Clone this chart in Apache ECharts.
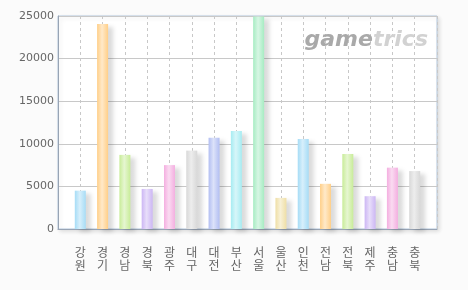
<!DOCTYPE html>
<html><head><meta charset="utf-8">
<script src="https://cdn.jsdelivr.net/npm/echarts@6/dist/echarts.min.js"></script>
<style>html,body{margin:0;padding:0;background:#fbfbfb;}#c{width:468px;height:290px;}</style>
</head><body><div id="c"></div>
<script>
const categories = ['강원','경기','경남','경북','광주','대구','대전','부산','서울','울산','인천','전남','전북','제주','충남','충북'];
const values = [4500, 24050, 8700, 4700, 7500, 9200, 10700, 11500, 24950, 3650, 10550, 5300, 8800, 3850, 7200, 6800];
const barColors = ['#a6dcf6','#ffcf88','#c8ec98','#ccb6f4','#f4aee0','#d8d8d8','#b2bef2','#a6ecf2','#a6ecc2','#efdfa6','#a6dcf6','#ffcf88','#c8ec98','#ccb6f4','#f4aee0','#d8d8d8'];
const yTicks = [0, 5000, 10000, 15000, 20000, 25000];

const cats = [''].concat(categories.map(c => c.split('').join('\n'))).concat(['']);
function lighten(hex, t){
  const n = parseInt(hex.slice(1),16);
  let r=(n>>16)&255,g=(n>>8)&255,b=n&255;
  r=Math.round(r+(255-r)*t);g=Math.round(g+(255-g)*t);b=Math.round(b+(255-b)*t);
  return 'rgb('+r+','+g+','+b+')';
}
const data = [null].concat(values.map((v,i)=>({
  value: v,
  itemStyle: {
    color: {type:'linear',x:0,y:0,x2:1,y2:0,colorStops:[
      {offset:0,color:barColors[i]},
      {offset:0.45,color:lighten(barColors[i],0.55)},
      {offset:1,color:barColors[i]}
    ]}
  }
}))).concat([null]);

const chart = echarts.init(document.getElementById('c'), null, {renderer:'canvas'});
chart.setOption({
  animation:false,
  backgroundColor:'#fbfbfb',
  grid:{left:58,right:31,top:16,bottom:61,show:true,backgroundColor:'#ffffff',borderColor:'#b4c8de',borderWidth:1,
    shadowColor:'rgba(0,0,0,0.12)',shadowBlur:4,shadowOffsetX:2,shadowOffsetY:2},
  graphic:[{type:'text',right:40,top:29,z:1,style:{
    text:'{a|game}{b|trics}',
    rich:{a:{fill:'#a9a9a9',font:'italic bold 22px "DejaVu Sans"'},b:{fill:'#d2d2d2',font:'italic bold 22px "DejaVu Sans"'}}
  }}],
  xAxis:{type:'category',data:cats,boundaryGap:false,
    axisLine:{lineStyle:{color:'#98a4b4',width:1}},
    axisTick:{show:false},
    axisLabel:{color:'#666',fontSize:12,fontFamily:'"Noto Sans CJK KR"',lineHeight:13,margin:17,interval:0},
    splitLine:{show:true,lineStyle:{color:'#c8c8c8',type:[3,3]}}
  },
  yAxis:{type:'value',min:yTicks[0],max:yTicks[yTicks.length-1],interval:5000,
    axisLine:{show:true,lineStyle:{color:'#98a4b4'}},
    axisTick:{show:false},
    axisLabel:{color:'#666',fontSize:11,fontFamily:'"DejaVu Sans"',margin:4,formatter:v=>String(v)},
    splitLine:{lineStyle:{color:'#c8c8c8'}}
  },
  series:[{type:'bar',data:data,barWidth:11,z:3,
    itemStyle:{shadowColor:'rgba(0,0,0,0.14)',shadowBlur:4,shadowOffsetX:5,shadowOffsetY:3}
  }]
});
</script></body></html>
